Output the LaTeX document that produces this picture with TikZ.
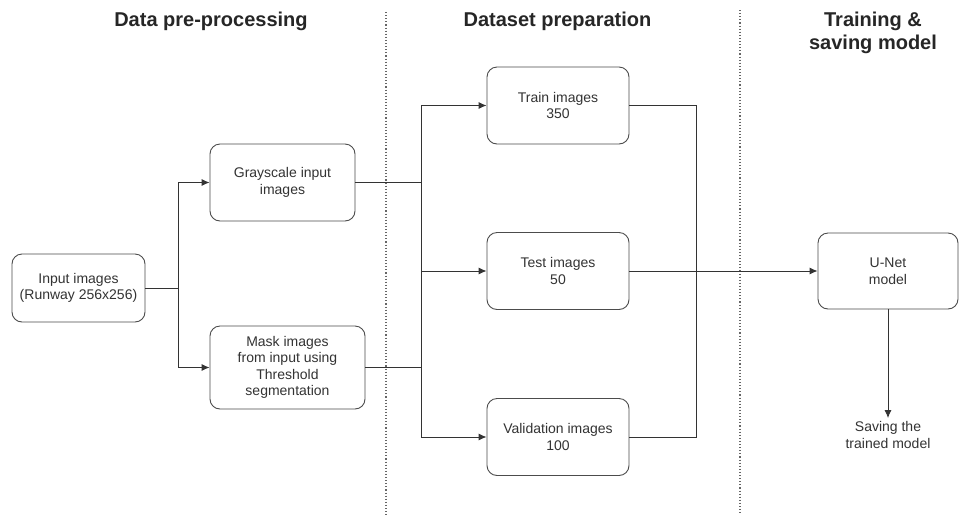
\documentclass[tikz,border=0pt]{standalone}
\usepackage{fontspec}
\setmainfont{Liberation Sans}
\usetikzlibrary{arrows.meta}
\begin{document}
\begin{tikzpicture}[x=1pt,y=-1pt,
  box/.style={draw=black!70, line width=0.9pt, rounded corners=10pt, inner sep=0pt,
    align=center, font=\fontsize{14}{16.5}\selectfont, text=black!80},
  head/.style={align=center, font=\fontsize{20}{23}\selectfont\bfseries, text=black!85},
  plain/.style={align=center, font=\fontsize{14}{16.5}\selectfont, text=black!80},
  wire/.style={draw=black!80, line width=0.9pt},
  arr/.style={wire, -{Latex[length=8pt,width=7pt]}},
  sep/.style={draw=black!60, line width=1.1pt, dotted}]
\useasboundingbox (0,0) rectangle (959,515);
\fill[white] (0,0) rectangle (959,515);

% headings
\node[head] (h1) at (211,21) {Data pre-processing};
\node[head] (h2) at (557.5,21) {Dataset preparation};
\node[head] (h3) at (873,33) {Training \&\\saving model};

% separators
\coordinate (s1a) at (386,12);
\coordinate (s1b) at (386,515);
\coordinate (s2a) at (740,10);
\coordinate (s2b) at (740,515);
\draw[sep] (s1a) -- (s1b);
\draw[sep] (s2a) -- (s2b);

% boxes
\node[box, minimum width=133pt, minimum height=68pt] (in) at (78.5,288) {Input images\\(Runway 256x256)};
\node[box, minimum width=145pt, minimum height=77pt] (gray) at (282.5,182.5) {Grayscale input\\images};
\node[box, minimum width=155pt, minimum height=83pt] (mask) at (287.5,367.5) {Mask images\\from input using\\Threshold\\segmentation};
\node[box, minimum width=142pt, minimum height=77pt] (train) at (558,105.5) {Train images\\350};
\node[box, minimum width=142pt, minimum height=77pt] (test) at (558,271) {Test images\\50};
\node[box, minimum width=142pt, minimum height=77pt] (val) at (558,437) {Validation images\\100};
\node[box, minimum width=140pt, minimum height=76pt] (unet) at (888,271) {U-Net\\model};
\node[plain] (save) at (888,435) {Saving the\\trained model};

% junctions
\coordinate (j1) at (178,288);
\coordinate (j2t) at (421,105.5);
\coordinate (j2b) at (421,437);
\coordinate (j2g) at (421,182.5);
\coordinate (j2m) at (421,367.5);
\coordinate (j3t) at (696,105.5);
\coordinate (j3b) at (696,437);

% connectors
\draw[wire] (in.east) -- (j1);
\draw[arr] (j1) |- (gray.west);
\draw[arr] (j1) |- (mask.west);
\draw[wire] (gray.east) -- (j2g);
\draw[wire] (mask.east) -- (j2m);
\draw[wire] (j2t) -- (j2b);
\draw[arr] (j2t) -- (train.west);
\draw[arr] (j2t |- test.west) -- (test.west);
\draw[arr] (j2b) -- (val.west);
\draw[wire] (train.east) -- (j3t) -- (j3b) -- (val.east);
\draw[arr] (test.east) -- (unet.west);
\draw[arr] (unet.south) -- (save.north);
\end{tikzpicture}
\end{document}
